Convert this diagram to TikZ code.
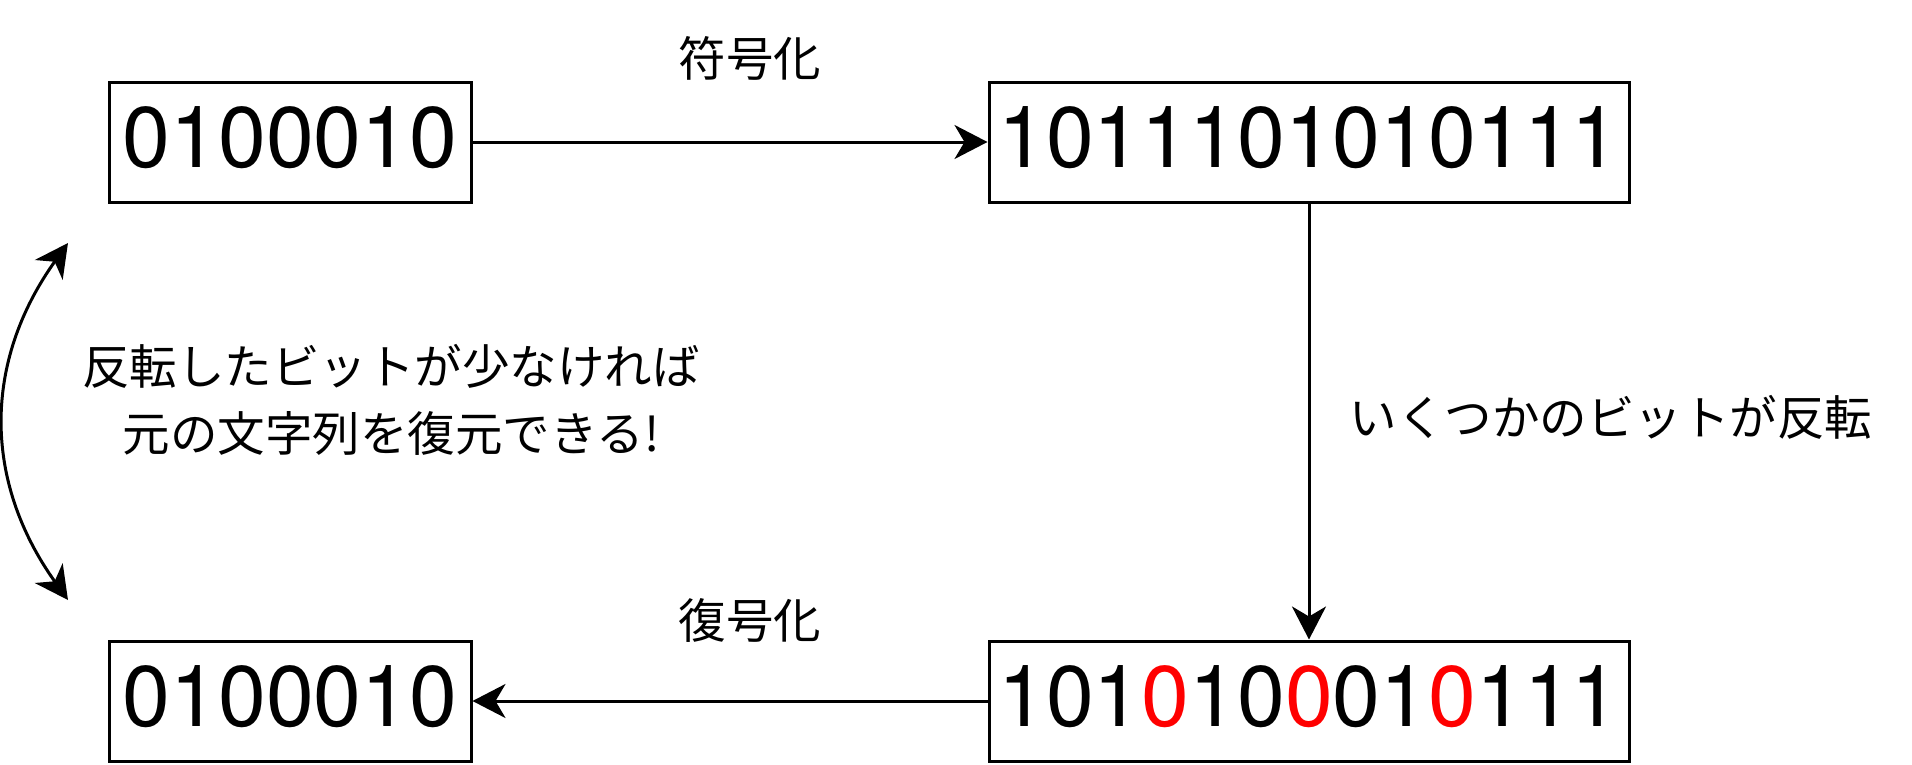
\documentclass[tikz,border=0pt]{standalone}
\usepackage{fontspec}
\setmainfont{TeX Gyre Heros}
\newfontfamily\cjk{Noto Sans CJK JP}
\usetikzlibrary{arrows.meta}
\definecolor{flipred}{RGB}{255,0,0}
\begin{document}
\begin{tikzpicture}[x=1pt,y=-1pt,
  bitbox/.style={draw,line width=3pt,inner sep=0pt,text depth=10pt,font=\fontsize{86}{100}\selectfont},
  lbl/.style={inner sep=0pt,font=\cjk\fontsize{47.5}{67}\selectfont},
  conn/.style={line width=3pt,-{Stealth[length=33pt,width=34pt,inset=10pt]}},
  >={Stealth[length=33pt,width=34pt,inset=10pt]}]
\useasboundingbox (0,0) rectangle (1912,764);
\node[bitbox,minimum width=362pt,minimum height=120pt] (src) at (290,142) {0100010};
\node[bitbox,minimum width=640pt,minimum height=120pt] (enc) at (1309,142) {1011101010111};
\node[bitbox,minimum width=640pt,minimum height=120pt] (err) at (1309,701) {101\textcolor{flipred}{0}10\textcolor{flipred}{0}01\textcolor{flipred}{0}111};
\node[bitbox,minimum width=362pt,minimum height=120pt] (dec) at (290,701) {0100010};
\draw[conn] (src) -- (enc);
\draw[conn] (enc) -- (err);
\draw[conn] (err) -- (dec);
\node[lbl] (l1) at (750,58) {符号化};
\node[lbl] (l2) at (1611,417) {いくつかのビットが反転};
\node[lbl] (l3) at (750,620) {復号化};
\node[lbl,align=center] (l4) at (391,400) {反転したビットが少なければ\\元の文字列を復元できる!};
\coordinate (ct) at (68,243);
\coordinate (cb) at (68,600);
\draw[line width=3pt,<->] (cb) .. controls (-17,481) and (-17,362) .. (ct);
\end{tikzpicture}
\end{document}
